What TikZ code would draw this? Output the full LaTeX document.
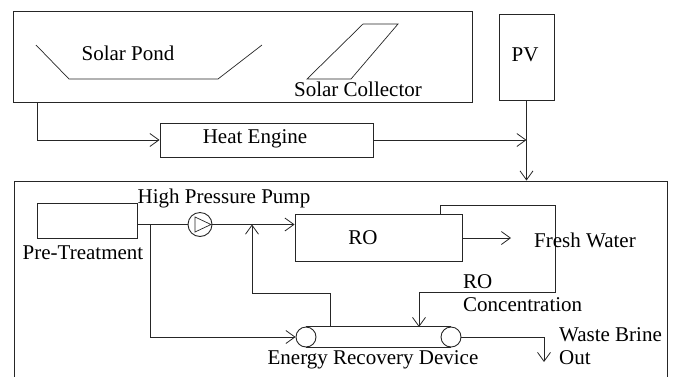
\documentclass[tikz,border=0pt]{standalone}
\usepackage{fontspec}
\setmainfont{Liberation Serif}
\newfontfamily\tnr{Liberation Serif}
\usetikzlibrary{arrows.meta}
\begin{document}
\begin{tikzpicture}[x=1pt,y=-1pt,
  line/.style={draw=black!85, line width=0.9pt},
  arr/.style={line, -{Straight Barb[length=9pt,width=13pt,line width=0.8pt]}},
  box/.style={line, rectangle, inner sep=0pt, anchor=center},
  lbl/.style={inner sep=0pt, font=\tnr\fontsize{21}{24}\selectfont},
  roll/.style={line, circle, inner sep=0pt, minimum size=20pt}]
\useasboundingbox (0,0) rectangle (674,376);
\clip (0,0) rectangle (674,376);
% boxes
\node[box, minimum width=459pt, minimum height=91pt] (top) at (243,56.5) {};
\node[box, minimum width=55pt, minimum height=86pt] (pv) at (526.5,57) {};
\node[box, minimum width=213pt, minimum height=34pt] (heat) at (266.5,140) {};
\node[box, minimum width=653pt, minimum height=218pt] (big) at (340.5,290) {};
\node[box, minimum width=100pt, minimum height=35pt] (pre) at (87,220.5) {};
\node[box, minimum width=167pt, minimum height=47pt] (ro) at (378.5,237.5) {};
% solar pond and collector
\draw[line, line width=0.7pt] (36,45) -- (69,79) -- (218,79) -- (262,45);
\draw[line, line width=0.7pt] (363,24) -- (398,24) -- (351,79) -- (307,79) -- cycle;
% pump
\node[line, circle, inner sep=0pt, minimum size=24pt,
  path picture={\draw[line, line width=0.7pt] (path picture bounding box.center)
     +(-5,-7.5) -- +(11,0) -- +(-5,7.5) -- cycle;}] (pump) at (200,224.5) {};
% energy recovery device
\node[roll] (erdL) at (306,337) {};
\node[roll] (erdR) at (451,337) {};
\draw[line] (erdL.north) -- (erdR.north);
\draw[line] (erdL.south) -- (erdR.south);
% helper coordinates
\coordinate (j1) at (150,224.5);
\coordinate (r1) at (330,327);
\coordinate (r2) at (252,224.5);
\coordinate (c1) at (440,214);
\coordinate (c2) at (419,327);
\coordinate (fw) at (511,238);
\coordinate (wb) at (544,362);
% connectors
\draw[arr] (top.south west) ++(24.5,0) |- (heat.west);
\draw[arr] (heat.east) -- (heat.east -| pv.south);
\draw[arr] (pv.south) -- (pv.south |- big.north);
\draw[line] (pre.east |- pump) -- (pump.west);
\draw[arr] (pump.east) -- (ro.west |- pump);
\draw[arr] (j1) |- (erdL.west);
\draw[arr] (r1) -- ++(0,-34) -| (r2);
\draw[arr] (c1) -- ++(0,-9) -- ++(115,0) -- ++(0,87) -| (c2);
\draw[arr] (ro.east |- fw) -- (fw);
\draw[arr] (erdR.east) -| (wb);
% labels
\node[lbl] (tpond) at (128,53) {Solar Pond};
\node[lbl] (tcoll) at (358,89) {Solar Collector};
\node[lbl] (tpv) at (525,55) {PV};
\node[lbl] (theat) at (255,139) {Heat Engine};
\node[lbl] (thpp) at (224,198) {High Pressure Pump};
\node[lbl] (tpre) at (83,253) {Pre-Treatment};
\node[lbl] (tro) at (363,238) {RO};
\node[lbl] (tfw) at (585,240) {Fresh Water};
\node[lbl, anchor=west] (troc1) at (463,282) {RO};
\node[lbl, anchor=west] (troc2) at (463,305) {Concentration};
\node[lbl, anchor=west] (twb1) at (559,335) {Waste Brine};
\node[lbl, anchor=west] (twb2) at (559,358) {Out};
\node[lbl] (terd) at (373,360) {Energy Recovery Device};
\end{tikzpicture}
\end{document}
